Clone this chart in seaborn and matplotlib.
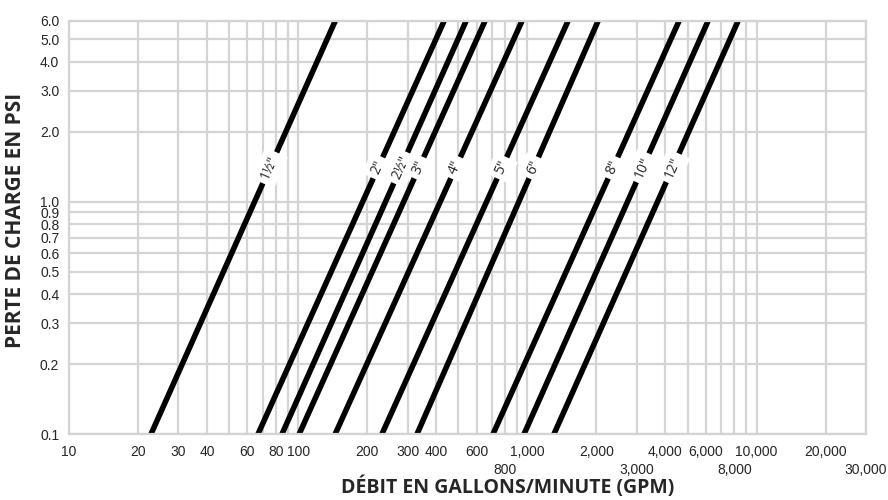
import numpy as np
import pandas as pd
import matplotlib
matplotlib.use("Agg")
import matplotlib.pyplot as plt
import matplotlib.ticker as mticker
import seaborn as sns

# pipe sizes and flow (GPM) read at 0.1 psi and at 6.0 psi
sizes = ['1½"', '2"', '2½"', '3"', '4"', '5"', '6"', '8"', '10"', '12"']
gpm_low = [22.8, 66.8, 85, 101, 145, 232, 330, 708, 967, 1306]
gpm_high = [145, 433, 540, 653, 947, 1503, 2033, 4586, 6137, 8298]
psi_low, psi_high = 0.1, 6.0
label_psi = 1.4

# upper row of x labels
x_top = [10, 20, 30, 40, 60, 80, 100, 200, 300, 400, 600, 1000,
         2000, 4000, 6000, 10000, 20000]
x_top_labels = ["10", "20", "30", "40", "60", "80", "100", "200", "300", "400",
                "600", "1,000", "2,000", "4,000", "6,000", "10,000", "20,000"]
# lower row (staggered) + unlabeled grid positions
x_low = [800, 3000, 8000, 30000, 50, 70, 90, 500, 700, 900, 5000, 7000, 9000]
x_low_labels = ["800", "3,000", "8,000", "30,000", "", "", "", "", "", "", "", "", ""]
y_ticks = [0.1, 0.2, 0.3, 0.4, 0.5, 0.6, 0.7, 0.8, 0.9, 1, 2, 3, 4, 5, 6]
y_labels = ["0.1", "0.2", "0.3", "0.4", "0.5", "0.6", "0.7", "0.8", "0.9",
            "1.0", "2.0", "3.0", "4.0", "5.0", "6.0"]

df = pd.DataFrame({
    "size": np.repeat(sizes, 2),
    "gpm": np.ravel(np.column_stack([gpm_low, gpm_high])),
    "psi": [psi_low, psi_high] * len(sizes),
})

sns.set_style("white")
plt.rcParams["font.family"] = ["Liberation Sans Narrow", "Liberation Sans", "DejaVu Sans"]

fig, ax = plt.subplots(figsize=(8.88, 5.0), dpi=100)
fig.subplots_adjust(left=69 / 888, right=866 / 888, top=1 - 21 / 500, bottom=1 - 434 / 500)
ax.set_xscale("log")
ax.set_yscale("log")

sns.lineplot(data=df, x="gpm", y="psi", units="size", estimator=None, sort=False,
             color="black", lw=4, solid_capstyle="butt", ax=ax, legend=False)

ax.set_xlim(10, 30000)
ax.set_ylim(psi_low, psi_high)

ax.xaxis.set_major_locator(mticker.FixedLocator(x_top))
ax.xaxis.set_major_formatter(mticker.FixedFormatter(x_top_labels))
ax.xaxis.set_minor_locator(mticker.FixedLocator(x_low))
ax.xaxis.set_minor_formatter(mticker.FixedFormatter(x_low_labels))
ax.yaxis.set_major_locator(mticker.FixedLocator(y_ticks))
ax.yaxis.set_major_formatter(mticker.FixedFormatter(y_labels))
ax.yaxis.set_minor_locator(mticker.NullLocator())
ax.tick_params(axis="both", which="both", length=0, labelsize=10)
ax.tick_params(axis="x", which="major", pad=8)
ax.tick_params(axis="x", which="minor", pad=21)
ax.tick_params(axis="y", pad=7)

ax.grid(True, which="both", color="#d4d4d4", lw=1.6)
for sp in ax.spines.values():
    sp.set_color("#d4d4d4")
    sp.set_linewidth(1.6)

# labels on the lines, rotated along each line
for s, g0, g1 in zip(sizes, gpm_low, gpm_high):
    t = (np.log10(label_psi) - np.log10(psi_low)) / (np.log10(psi_high) - np.log10(psi_low))
    gx = 10 ** (np.log10(g0) + t * (np.log10(g1) - np.log10(g0)))
    p0 = ax.transData.transform((g0, psi_low))
    p1 = ax.transData.transform((g1, psi_high))
    ang = np.degrees(np.arctan2(p1[1] - p0[1], p1[0] - p0[0]))
    ax.text(gx, label_psi, s, rotation=ang, rotation_mode="anchor", ha="center", va="center",
            fontsize=10, family=["Open Sans", "DejaVu Sans"],
            bbox=dict(boxstyle="square,pad=0.35", fc="white", ec="none"), zorder=5)

ax.set_xlabel("DÉBIT EN GALLONS/MINUTE (GPM)", fontsize=14, fontweight="bold",
              family=["Open Sans", "DejaVu Sans"])
ax.set_ylabel("PERTE DE CHARGE EN PSI", fontsize=15, fontweight="bold",
              family=["Open Sans", "DejaVu Sans"])
ax.xaxis.set_label_coords((508 - 69) / 797, (434 - 476) / 413)
ax.yaxis.set_label_coords((26 - 69) / 797, (434 - 220) / 413)

fig.savefig("out.png", dpi=100)
